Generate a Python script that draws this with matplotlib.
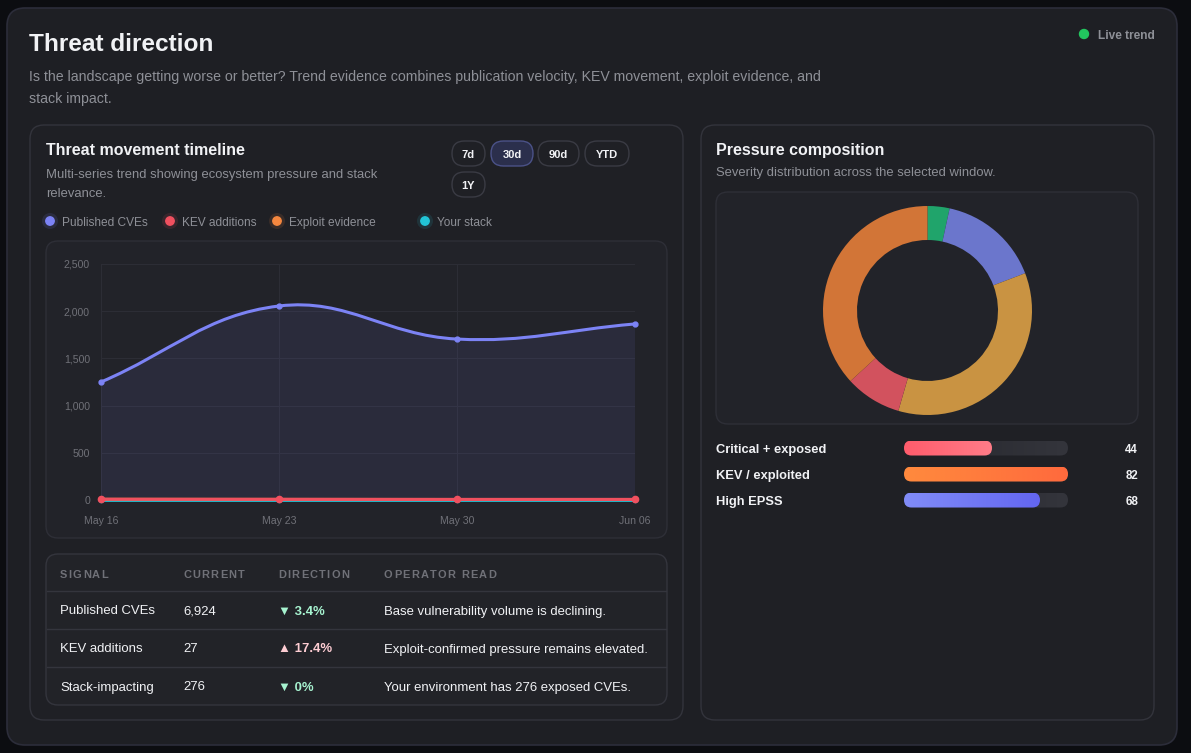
import numpy as np
import matplotlib
matplotlib.use("Agg")
import matplotlib.pyplot as plt
from matplotlib.patches import FancyBboxPatch, Circle, PathPatch
from matplotlib.path import Path
from matplotlib.colors import LinearSegmentedColormap
from matplotlib import font_manager
from matplotlib.ft2font import FT2Font

plt.rcParams['font.family'] = ['Liberation Sans', 'DejaVu Sans']

# ---------------------------------------------------------
# Data
# ---------------------------------------------------------
dates = ["May 16", "May 23", "May 30", "Jun 06"]
published_cves = [1250, 2055, 1705, 1865]
kev_additions = [8, 7, 6, 6]
exploit_evidence = [9, 8, 7, 7]
your_stack = [0, 0, 0, 0]
y_ticks = [0, 500, 1000, 1500, 2000, 2500]

series_names = ["Published CVEs", "KEV additions", "Exploit evidence", "Your stack"]
series_colors = ["#7c83f5", "#f0505f", "#f5873f", "#22c4d6"]

composition_values = [3.4, 15.8, 35.3, 8.7, 36.8]
composition_colors = ["#20a46b", "#6b76cc", "#c99342", "#d2525e", "#d27537"]

pressure_labels = ["Critical + exposed", "KEV / exploited", "High EPSS"]
pressure_values = [44, 82, 68]
pressure_gradients = [("#ff5c6c", "#ff7c88"), ("#ff8a3d", "#ff6a3d"), ("#818cf8", "#6366f1")]

table_headers = ["SIGNAL", "CURRENT", "DIRECTION", "OPERATOR READ"]
table_signals = ["Published CVEs", "KEV additions", "Stack-impacting"]
table_current = ["6,924", "27", "276"]
table_direction = ["\u25bc 3.4%", "\u25b2 17.4%", "\u25bc 0%"]
table_dir_colors = ["#a7f3d0", "#fecdd3", "#a7f3d0"]
table_read = ["Base vulnerability volume is declining.",
              "Exploit-confirmed pressure remains elevated.",
              "Your environment has 276 exposed CVEs."]

windows = ["7d", "30d", "90d", "YTD", "1Y"]
selected_window = "30d"

W, H = 1191, 753
WHITE = "#f1f2f5"
GRAY = "#8e9097"
DIM = "#707178"
BORDER = "#33343c"
DY = 1.5  # matplotlib centres on the full box incl. descenders

fig = plt.figure(figsize=(W / 100, H / 100), dpi=100)
fig.patch.set_facecolor("#0c0d11")

bg = fig.add_axes([0, 0, 1, 1])
bg.set_xlim(0, W)
bg.set_ylim(H, 0)
bg.axis("off")
bg.set_autoscale_on(False)


def txt(x, y, s, size, color, bold=False, **kw):
    return bg.text(x, y + DY, s, fontsize=size, color=color, va="center",
                   fontweight="bold" if bold else "normal", **kw)


def tracked(x, y, s, size, color, track):
    # header labels are letter-spaced: place glyph by glyph using real advances
    path = font_manager.findfont(font_manager.FontProperties(family="Liberation Sans", weight="bold"))
    ft = FT2Font(path)
    ft.set_size(size, 100)
    for ch in s:
        if ch != " ":
            txt(x, y, ch, size, color, bold=True)
        g = ft.load_char(ord(ch))
        x += g.linearHoriAdvance / 65536 + track


def rbox(x0, y0, x1, y1, r, fc, ec=BORDER, lw=1.0, z=1):
    p = FancyBboxPatch((x0, y0), x1 - x0, y1 - y0,
                       boxstyle=f"round,pad=0,rounding_size={r}",
                       fc=fc, ec=ec, lw=lw, zorder=z)
    bg.add_patch(p)
    return p


def grad_bar(x0, y0, w, h, c0, c1, z=3):
    clip = FancyBboxPatch((x0, y0), w, h, boxstyle=f"round,pad=0,rounding_size={h / 2}",
                          fc="none", ec="none", zorder=z)
    bg.add_patch(clip)
    cmap = LinearSegmentedColormap.from_list("g", [c0, c1])
    im = bg.imshow(np.linspace(0, 1, 256)[None, :], cmap=cmap, aspect="auto",
                   extent=(x0, x0 + w, y0 + h, y0), zorder=z, interpolation="bilinear")
    im.set_clip_path(clip)


# main card
rbox(7, 8, 1177, 745, 18, "#1e1f24", ec="#2c2d3a", lw=1.2)
txt(29, 43, "Threat direction", 17.6, WHITE, bold=True)
txt(29, 75, "Is the landscape getting worse or better? Trend evidence combines publication velocity, "
    "KEV movement, exploit evidence, and", 10.2, GRAY)
txt(29, 97, "stack impact.", 10.2, GRAY)
bg.add_patch(Circle((1084, 34), 4.5, color="#22c55e", zorder=3))
txt(1098, 34, "Live trend", 8.6, GRAY, bold=True)

# panels
rbox(30, 125, 683, 720, 14, "#1f2025")
rbox(701, 125, 1154, 720, 14, "#1f2025")

# left panel header
txt(46, 149, "Threat movement timeline", 11.5, WHITE, bold=True)
txt(46, 173, "Multi-series trend showing ecosystem pressure and stack", 9.4, GRAY)
txt(46, 192, "relevance.", 9.4, GRAY)

pill_boxes = [(452, 141, 485, 166), (491, 141, 533, 166), (538, 141, 579, 166),
              (585, 141, 629, 166), (452, 172, 485, 197)]
for label, (x0, y0, x1, y1) in zip(windows, pill_boxes):
    sel = label == selected_window
    rbox(x0, y0, x1, y1, 12.5, "#2b2f4c" if sel else "#1f2025",
         ec="#4b5288" if sel else "#3a3b44", lw=1.0, z=2)
    txt((x0 + x1) / 2, (y0 + y1) / 2, label, 8, WHITE, bold=True, ha="center", zorder=3)

legend_x = [50, 170, 277, 425]
for lx, name, col in zip(legend_x, series_names, series_colors):
    bg.add_patch(Circle((lx, 221), 8, color=col, alpha=0.12, zorder=2, lw=0))
    bg.add_patch(Circle((lx, 221), 4.2, color=col, zorder=3))
    txt(lx + 12, 221, name, 8.6, GRAY)

# chart box
rbox(46, 241, 667, 538, 12, "#222329", ec="#2e2f37")

# table box
rbox(46, 554, 667, 705, 12, "#222328", ec="#34353d")
col_x = [60, 183, 278, 384]
for cx, hdr in zip(col_x, table_headers):
    tracked(cx, 573, hdr, 7.9, DIM, 1.3)
for yy in [591, 629, 667]:
    bg.plot([47, 666], [yy, yy], color="#34353d", lw=1, zorder=2)
row_y = [610, 648, 686]
for i, ry in enumerate(row_y):
    txt(col_x[0], ry, table_signals[i], 9.45, WHITE)
    txt(col_x[1], ry, table_current[i], 9.45, WHITE)
    txt(col_x[2], ry, table_direction[i], 9.45, table_dir_colors[i], bold=True)
    txt(col_x[3], ry, table_read[i], 9.45, WHITE)

# right panel
txt(716, 149, "Pressure composition", 11.5, WHITE, bold=True)
txt(716, 171, "Severity distribution across the selected window.", 9.4, GRAY)
rbox(716, 192, 1138, 424, 12, "#222329", ec="#2e2f37")

bar_y = [448, 474, 500]
max_p = max(pressure_values)
for i, (lab, val, (c0, c1)) in enumerate(zip(pressure_labels, pressure_values, pressure_gradients)):
    yc = bar_y[i]
    txt(716, yc, lab, 9.3, WHITE, bold=True)
    grad_bar(904, yc - 7.5, 164, 15, "#25262c", "#34353c", z=2)
    grad_bar(904, yc - 7.5, 164 * val / max_p, 15, c0, c1, z=3)
    txt(1138, yc, str(val), 8.3, WHITE, bold=True, ha="right")

# ---------------------------------------------------------
# Line chart
# ---------------------------------------------------------
px0, px1, py0, py1 = 101, 635, 264, 500
ax = fig.add_axes([px0 / W, 1 - py1 / H, (px1 - px0) / W, (py1 - py0) / H])
ax.set_facecolor("none")
ax.set_xlim(0, len(dates) - 1)
ax.set_ylim(0, 2500)
for s in ax.spines.values():
    s.set_visible(False)
ax.set_yticks(y_ticks)
ax.set_yticklabels([f"{v:,}" for v in y_ticks])
ax.set_xticks(range(len(dates)))
ax.set_xticklabels(dates)
ax.tick_params(length=0, colors=DIM, labelsize=7.6)
ax.tick_params(axis="y", pad=8)
ax.tick_params(axis="x", pad=11.5)
ax.grid(True, color="#2c2d35", lw=0.8)
ax.set_axisbelow(True)


def spline_path(xs, ys, tension=0.4):
    pts = ax.transData.transform(np.column_stack([xs, ys]))
    n = len(pts)
    cps = []
    for i in range(n):
        prev = pts[max(i - 1, 0)]
        cur = pts[i]
        nxt = pts[min(i + 1, n - 1)]
        d01 = np.hypot(*(cur - prev))
        d12 = np.hypot(*(nxt - cur))
        tot = d01 + d12
        s01 = d01 / tot if tot else 0
        s12 = d12 / tot if tot else 0
        cps.append((cur - tension * s01 * (nxt - prev), cur + tension * s12 * (nxt - prev)))
    verts = [pts[0]]
    codes = [Path.MOVETO]
    for i in range(n - 1):
        verts += [cps[i][1], cps[i + 1][0], pts[i + 1]]
        codes += [Path.CURVE4] * 3
    inv = ax.transData.inverted()
    return inv.transform(np.array(verts)), codes


x_idx = np.arange(len(dates))
verts, codes = spline_path(x_idx, published_cves)
fill_verts = np.vstack([verts, [[x_idx[-1], 0], [x_idx[0], 0], verts[0]]])
fill_codes = codes + [Path.LINETO, Path.LINETO, Path.CLOSEPOLY]
ax.add_patch(PathPatch(Path(fill_verts, fill_codes), fc="#7c83f5", alpha=0.09, ec="none", zorder=2))
ax.add_patch(PathPatch(Path(verts, codes), fc="none", ec=series_colors[0], lw=2.2, zorder=4,
                       clip_on=False, capstyle="round"))
ax.plot(x_idx, published_cves, "o", ms=3.5, color=series_colors[0], zorder=5, clip_on=False)

ax.plot(x_idx, your_stack, color=series_colors[3], lw=2, zorder=3, clip_on=False,
        marker="o", ms=3, solid_capstyle="round")
ax.plot(x_idx, exploit_evidence, color=series_colors[2], lw=2, zorder=3.5, clip_on=False,
        marker="o", ms=3)
ax.plot(x_idx, kev_additions, color=series_colors[1], lw=2.2, zorder=4, clip_on=False,
        marker="o", ms=4.5, solid_capstyle="round")

# ---------------------------------------------------------
# Donut
# ---------------------------------------------------------
cx, cy, r = 927.5, 310.5, 104.5
dax = fig.add_axes([(cx - r) / W, 1 - (cy + r) / H, 2 * r / W, 2 * r / H])
dax.axis("off")
dax.pie(composition_values, colors=composition_colors, startangle=90, counterclock=False,
        radius=1, wedgeprops=dict(width=34 / 104.5, linewidth=0))
dax.set_xlim(-1, 1)
dax.set_ylim(-1, 1)

fig.savefig("out.png", dpi=100, facecolor=fig.get_facecolor())
